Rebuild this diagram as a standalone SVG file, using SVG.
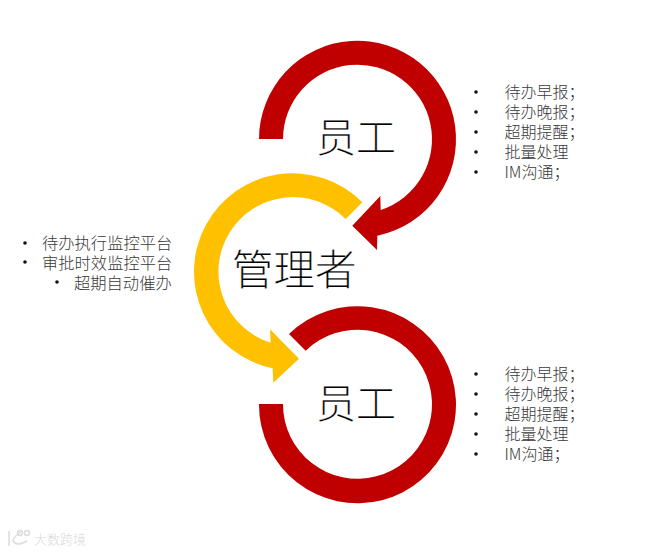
<svg xmlns="http://www.w3.org/2000/svg" width="668" height="553" viewBox="0 0 668 553">
<style>
text{font-family:"Noto Sans CJK SC","Noto Sans",sans-serif;font-weight:300}
.red{fill:#c00000}
.yel{fill:#ffc000}
.big{font-size:40px;fill:#000;stroke:#fff;stroke-width:.25px}
.li{font-size:16px;fill:#3a3a3a}
.lf{font-size:16.3px}
.dot{fill:#111}
.wm{font-size:13px;fill:#d9d9d9}
.wml{fill:none;stroke:#dcdcdc;stroke-width:1.5}
</style>
<defs><clipPath id="c"><rect x="0" y="0" width="576" height="553"/></clipPath></defs>
<rect width="668" height="553" fill="#fff"/>
<g id="connectors">
<path class="red" d="M259,139A98.5,98.5 0 1 1 377.3,235.7L377,250L352.3,225.7L380.3,196L380.7,210A74.5,74.5 0 1 0 283,139Z"/>
<path class="yel" d="M362.3,202.3A98.5,98.5 0 1 0 272.7,368.3L273.3,382.7L299,358.7L270,329.3L270.7,342.7A74.5,74.5 0 1 1 345.7,219Z"/>
<path class="red" d="M259,404A98.5,98.5 0 1 0 289,334L305.7,350.7A74.5,74.5 0 1 1 283,404Z"/>
</g>
<g id="node-staff-top"><text class="big" x="316" y="152">员工</text></g>
<g id="node-manager"><text class="big" style="font-size:41.5px" x="232" y="284.5">管理者</text></g>
<g id="node-staff-bottom"><text class="big" x="316" y="418">员工</text></g>
<g id="list-top" clip-path="url(#c)">
<circle class="dot" cx="476" cy="92" r="1.8"/><text class="li" x="504.5" y="98">待办早报；</text>
<circle class="dot" cx="476" cy="112" r="1.8"/><text class="li" x="504.5" y="118">待办晚报；</text>
<circle class="dot" cx="476" cy="132" r="1.8"/><text class="li" x="504.5" y="138">超期提醒；</text>
<circle class="dot" cx="476" cy="152" r="1.8"/><text class="li" x="504.5" y="158">批量处理</text>
<circle class="dot" cx="476" cy="172" r="1.8"/><text class="li" x="504.5" y="178">IM沟通；</text>
</g>
<g id="list-bottom" clip-path="url(#c)">
<circle class="dot" cx="476" cy="374" r="1.8"/><text class="li" x="504.5" y="380">待办早报；</text>
<circle class="dot" cx="476" cy="394" r="1.8"/><text class="li" x="504.5" y="400">待办晚报；</text>
<circle class="dot" cx="476" cy="414" r="1.8"/><text class="li" x="504.5" y="420">超期提醒；</text>
<circle class="dot" cx="476" cy="434" r="1.8"/><text class="li" x="504.5" y="440">批量处理</text>
<circle class="dot" cx="476" cy="454" r="1.8"/><text class="li" x="504.5" y="460">IM沟通；</text>
</g>
<g id="list-left">
<circle class="dot" cx="25" cy="243" r="1.8"/><text class="li lf" x="42" y="249">待办执行监控平台</text>
<circle class="dot" cx="25" cy="262" r="1.8"/><text class="li lf" x="42" y="269">审批时效监控平台</text>
<circle class="dot" cx="57" cy="282" r="1.8"/><text class="li lf" x="74" y="289">超期自动催办</text>
</g>
<g id="watermark">
<path class="wml" d="M9,531V546M22,531Q13,537 13,541Q17,547 27,541"/>
<circle class="wml" cx="20" cy="533" r="2.5"/><circle class="wml" cx="27" cy="533" r="2.5"/>
<text class="wm" x="34" y="544">大数跨境</text>
</g>
</svg>
